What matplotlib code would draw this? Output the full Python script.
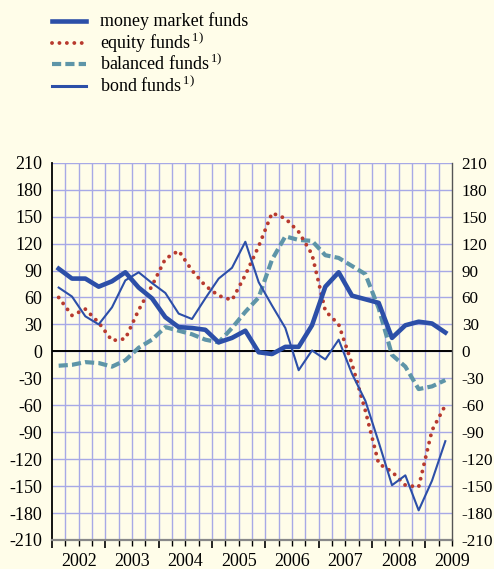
import matplotlib
matplotlib.use("Agg")
import matplotlib.pyplot as plt
from matplotlib.lines import Line2D
from matplotlib.ticker import MultipleLocator, FixedLocator, NullFormatter
import numpy as np

plt.rcParams['font.family'] = ['Liberation Serif', 'DejaVu Serif']
plt.rcParams['mathtext.fontset'] = 'custom'
plt.rcParams['mathtext.rm'] = 'Liberation Serif'
plt.rcParams['axes.unicode_minus'] = False

# ---- data (quarterly, 2002Q1 .. 2009Q2) ----
years = ['2002', '2003', '2004', '2005', '2006', '2007', '2008', '2009']
money_market = [92, 81, 81, 72, 78, 88, 71, 59, 38, 27, 26, 24, 10, 15, 23,
                -1, -3, 5, 5, 29, 72, 88, 62, 58, 54, 15, 29, 33, 31, 21]
equity = [60, 40, 47, 32, 12, 14, 46, 73, 103, 112, 90, 73, 62, 57, 85,
          117, 154, 148, 133, 108, 45, 30, -14, -66, -125, -134, -149, -151, -88, -60]
balanced = [-16, -15, -12, -13, -17, -10, 4, 13, 27, 23, 19, 13, 10, 26, 44,
            60, 102, 128, 124, 123, 107, 104, 95, 86, 48, -4, -17, -42, -39, -32]
bond = [71, 61, 39, 30, 49, 79, 88, 76, 65, 42, 36, 59, 81, 93, 122,
        77, 51, 26, -21, 1, -9, 13, -25, -55, -101, -149, -138, -177, -144, -100]
labels = ['money market funds', 'equity funds', 'balanced funds', 'bond funds']
notes = ['', '1)', '1)', '1)']

BG = '#fffde9'
BLUE = '#2c4fa8'
RED = '#b83a2e'
TEAL = '#5e95a8'
GRID = '#a7a9e6'
FS = 13

W, H = 494, 569
fig = plt.figure(figsize=(W / 100, H / 100), dpi=100, facecolor=BG)
ax = fig.add_axes([52 / W, 1 - 540 / H, 400 / W, (540 - 162.7) / H])
ax.set_facecolor(BG)

n = len(money_market)
x = np.arange(n) + 0.5

ax.set_xlim(0, n)
ax.set_ylim(-210, 210)

# grid
ax.xaxis.set_minor_locator(MultipleLocator(1))
ax.xaxis.set_major_locator(FixedLocator(list(range(0, n, 4))))
ax.yaxis.set_major_locator(MultipleLocator(30))
for xv in range(1, n):
    ax.axvline(xv, color=GRID, lw=1.0, zorder=1)
for yv in range(-180, 211, 30):
    ax.axhline(yv, color=GRID, lw=1.0, zorder=1)
ax.axhline(0, color='black', lw=1.4, zorder=2)

dash_eq = (0, (0.01, 1.9))
dash_bal = (0, (2.2, 1.0))
ax.plot(x, balanced, color=TEAL, lw=3.0, linestyle=dash_bal, zorder=3)
ax.plot(x, equity, color=RED, lw=2.8, linestyle=dash_eq, dash_capstyle='round', zorder=4)
ax.plot(x, bond, color=BLUE, lw=1.5, zorder=5)
ax.plot(x, money_market, color=BLUE, lw=3.3, zorder=6, solid_joinstyle='round')

# spines
ax.spines['top'].set_visible(False)
ax.spines['left'].set_color('black')
ax.spines['left'].set_linewidth(1.3)
ax.spines['right'].set_visible(False)
ax.spines['bottom'].set_color('#888888')
ax.spines['bottom'].set_linewidth(1.6)

ax.tick_params(axis='y', which='both', length=0, labelsize=FS, pad=7)

# right axis labels
ax2 = ax.twinx()
ax2.set_ylim(ax.get_ylim())
ax2.yaxis.set_major_locator(MultipleLocator(30))
ax2.tick_params(axis='y', length=0, labelsize=12.3, pad=7)
for s in ['top', 'left', 'bottom']:
    ax2.spines[s].set_visible(False)
ax2.spines['right'].set_color('#555555')
ax2.spines['right'].set_linewidth(1.0)

# x ticks
ax.tick_params(axis='x', which='major', length=6, width=1.2, color='black', direction='out')
ax.tick_params(axis='x', which='minor', length=4, width=1.0, color='black', direction='out')
ax.xaxis.set_major_formatter(NullFormatter())
ylab = -(561 - 540) / (540 - 162.7)
for k, yr in enumerate(years):
    pos = 4 * k + 2
    if pos > n:
        pos = n - 0.25
    ax.text(pos, ylab, yr, transform=ax.get_xaxis_transform(), ha='center', va='center',
            fontsize=FS)

# ---- legend ----
handles = [
    dict(color=BLUE, lw=3.3, ls='-'),
    dict(color=RED, lw=2.8, ls=dash_eq, dash_capstyle='round'),
    dict(color=TEAL, lw=3.0, ls=dash_bal),
    dict(color=BLUE, lw=2.2, ls='-'),
]
rows = [21, 43, 64, 86]
for lab, note, hd, ry in zip(labels, notes, handles, rows):
    yy = 1 - ry / H
    fig.add_artist(Line2D([52 / W, 86 / W], [yy, yy], transform=fig.transFigure, **hd))
    txt = lab if not note else lab + r'$^{\,\mathrm{' + note + '}}$'
    fig.text(100 / W, yy, txt, fontsize=FS, va='center', ha='left')

fig.savefig('out.png', dpi=100, facecolor=BG)
